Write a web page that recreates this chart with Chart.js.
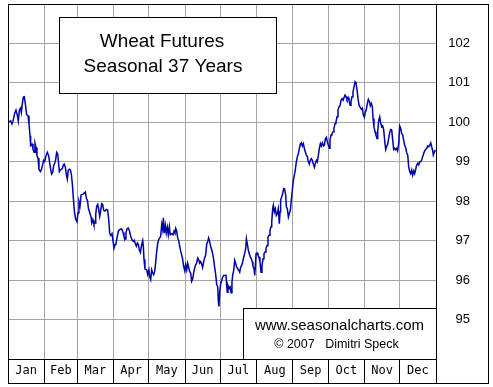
<!DOCTYPE html>
<html lang="en">
<head>
<meta charset="UTF-8">
<title>Wheat Futures Seasonal 37 Years</title>
<script src="https://cdn.jsdelivr.net/npm/chart.js"></script>
<style>
  html, body { margin: 0; padding: 0; background: #fff; }
</style>
</head>
<body>
<canvas id="chart" width="493" height="387"></canvas>
<script>
// month names and the day of year each month starts on
const months = ['Jan', 'Feb', 'Mar', 'Apr', 'May', 'Jun', 'Jul', 'Aug', 'Sep', 'Oct', 'Nov', 'Dec'];
const monthStarts = [0, 31, 59, 90, 120, 151, 181, 212, 243, 273, 304, 334, 365];
const yTicks = [95, 96, 97, 98, 99, 100, 101, 102];

const titleLines = ['Wheat Futures', 'Seasonal 37 Years'];
const creditLines = ['www.seasonalcharts.com', '\u00A9 2007   Dimitri Speck'];

// [day of year, seasonal index], one array per quarter
const q1 = [[0,100.0],[2.3,100.04],[3.4,99.96],[4.3,100.03],[5.7,100.23],[6.8,100.31],[8.0,100.17],[8.8,100.03],[9.7,100.31],[10.8,100.36],[11.4,100.25],[12.2,100.47],[13.1,100.64],[13.9,100.65],[14.8,100.47],[15.9,100.19],[17.1,100.17],[17.9,99.96],[18.8,99.66],[19.3,99.41],[20.5,99.45],[21.3,99.32],[22.2,99.24],[23.0,99.47],[23.9,99.36],[24.7,99.15],[25.6,99.09],[26.4,98.81],[27.6,98.75],[28.4,98.79],[29.6,98.94],[30.4,99.04],[31.3,99.01],[32.4,99.15],[33.5,99.24],[34.7,99.15],[35.5,98.98],[36.4,98.81],[37.2,98.69],[38.1,98.73],[38.9,98.9],[39.8,98.96],[40.6,99.04],[41.5,99.24],[42.4,99.2],[42.9,99.04],[43.8,98.75],[44.6,98.79],[45.5,98.81],[46.3,98.83],[47.2,98.92],[48.0,98.94],[48.9,98.86],[49.7,98.69],[50.6,98.56],[51.4,98.79],[52.3,98.81],[53.2,98.79],[54.0,98.69],[54.9,98.43],[55.7,98.09],[56.6,97.75],[57.7,97.54],[58.8,97.48],[59.7,97.71],[60.5,97.99],[61.4,97.88],[62.3,98.16],[64.0,98.18],
  [65.1,98.21],[66.0,98.23],[66.8,98.08],[67.9,98.0],[68.5,97.83],[69.6,97.72],[70.8,97.6],[71.4,97.45],[72.5,97.52],[73.3,97.41],[74.2,97.45],[74.8,97.66],[75.6,97.87],[76.5,97.92],[77.3,97.81],[78.2,97.62],[79.0,97.75],[79.9,97.94],[80.7,97.92],[81.6,97.77],[82.7,97.75],[83.9,97.79],[85.0,97.77],[85.9,97.53],[86.7,97.19],[87.6,97.13],[88.7,97.18],[89.6,96.98]];

const q2 = [[90.4,96.81],[91.3,96.9],[92.1,96.94],[93.0,97.07],[94.1,97.24],[95.2,97.28],[96.4,97.3],[97.2,97.28],[98.1,97.21],[98.9,97.11],[99.8,97.04],[100.6,97.19],[101.5,97.3],[102.6,97.32],[103.5,97.26],[104.3,97.15],[105.2,97.07],[106.0,97.01],[106.9,96.98],[107.7,97.01],[108.6,96.92],[109.5,96.86],[110.3,96.94],[111.2,96.9],[112.0,96.77],[112.9,96.7],[114.0,96.9],[114.9,97.0],[115.4,96.86],[116.0,96.52],[116.8,96.28],
  [118.3,96.26],[119.1,96.14],[120.2,96.26],[120.8,96.09],[121.7,96.01],[122.5,96.26],[123.4,96.18],[124.2,96.14],[125.1,96.22],[125.9,96.43],[126.8,96.73],[127.6,96.92],[128.5,97.03],[129.4,97.07],[130.2,97.11],[131.1,97.41],[131.9,97.28],[132.5,97.58],[133.3,97.19],[134.2,97.39],[135.0,97.19],[135.9,97.34],[136.7,97.15],[137.6,97.36],[138.4,97.15],[139.6,97.17],[140.7,97.15],[141.6,97.24],[142.4,97.19],[143.0,97.31],[143.8,97.25],[144.7,97.07],[145.6,97.0],[146.4,96.86],[147.3,96.73],[148.1,96.64],[149.0,96.52],[149.8,96.35],[150.7,96.24],[151.5,96.39],[152.4,96.26],[153.2,96.43],[154.1,96.32],[154.9,96.22],[155.8,96.18],[156.6,95.97],[157.5,96.03],[158.3,96.18],[159.2,96.31],[160.0,96.39],[160.9,96.43],[161.8,96.56],[162.6,96.52],[163.5,96.43],[164.3,96.47],[165.2,96.41],[166.0,96.32],[166.9,96.47],[167.7,96.56],[168.6,96.64],[169.4,96.9],[170.3,96.98],[171.1,97.07],[172.0,96.97],[172.8,96.86],[173.7,96.77],[174.6,96.66],[175.4,96.52],[176.3,96.31],[177.1,96.15],[178.0,95.88],[178.8,95.84],[179.4,95.46],[179.9,95.33]];

const q3 = [[180.5,95.69],[181.4,95.91],[182.2,95.99],[183.1,96.08],[183.9,96.12],[185.1,96.12],[185.9,96.14],[186.5,95.86],[187.0,95.69],[187.6,95.86],[188.5,95.78],[189.3,95.86],[190.2,95.68],[191.0,95.95],[191.6,96.12],[192.5,96.25],[193.3,96.5],[194.2,96.42],[195.0,96.33],[195.9,96.29],[196.7,96.25],[197.6,96.2],[198.4,96.33],[199.3,96.37],[200.1,96.46],[201.0,96.58],[201.8,96.67],[202.7,96.8],[203.3,97.05],[204.1,96.92],[205.0,96.75],[205.8,96.67],[206.7,96.58],[207.5,96.54],[208.4,96.46],[208.9,96.36],[209.8,96.29],[210.4,96.12],[210.9,96.33],[211.5,96.67],[212.4,96.69],[213.2,96.63],[214.1,96.58],[214.9,96.46],[215.8,96.2],[216.6,96.37],[217.5,96.54],[218.3,96.67],[219.2,96.71],[220.0,96.8],[220.9,96.88],[221.7,97.09],[222.6,97.14],[223.4,97.26],[224.3,97.35],[224.9,97.47],[225.7,97.81],[226.3,97.9],[227.1,97.73],[228.0,97.81],[228.8,97.64],[229.7,97.69],[230.5,97.81],[231.4,97.43],[232.0,97.73],[232.5,98.03],[233.4,98.11],[234.2,98.19],[235.1,98.32],[235.9,98.31],[236.8,98.15],[237.4,97.86],[238.2,97.81],[239.1,97.6],[239.9,97.69],[240.8,97.77],[241.6,98.03],[242.5,98.28],[243.3,98.53],[244.2,98.66],[245.0,98.79],[245.9,99.0],[246.8,99.13],[247.6,99.21],[248.5,99.34],
  [249.3,99.45],[250.2,99.48],[251.0,99.4],[251.9,99.46],[252.7,99.34],[253.6,99.25],[254.4,99.17],[255.3,99.13],[256.1,99.0],[257.0,98.94],[257.8,99.04],[258.7,99.08],[259.6,99.03],[260.4,98.94],[261.3,98.86],[262.1,98.96],[263.0,99.04],[263.8,99.0],[264.7,99.17],[265.5,99.34],[266.4,99.46],[267.2,99.4],[268.1,99.48],[269.0,99.4],[269.8,99.42],[270.6,99.57],[271.5,99.62],[272.3,99.51]];

const q4 = [[273.2,99.42],[274.1,99.34],[274.6,99.55],[275.5,99.68],[276.3,99.72],[277.2,99.76],[278.0,99.84],[278.9,99.97],[279.7,100.01],[280.6,100.14],[281.4,100.31],[282.3,100.39],[283.2,100.43],[284.0,100.56],[284.9,100.6],[285.7,100.56],[286.6,100.63],[287.4,100.69],[288.3,100.65],[289.1,100.58],[290.0,100.63],[290.8,100.56],[291.7,100.43],[292.5,100.52],[293.4,100.65],[294.2,100.77],[295.1,100.9],[296.0,101.03],[296.8,101.0],[297.7,100.81],[298.5,100.6],[299.4,100.43],[300.2,100.39],
  [301.3,100.33],[302.2,100.36],[303.0,100.19],[303.9,100.13],[304.7,100.25],[305.6,100.33],[306.5,100.48],[307.3,100.58],[308.2,100.53],[309.0,100.42],[309.9,100.48],[310.7,100.4],[311.3,100.1],[312.1,99.89],[313.0,99.76],[313.8,99.68],[314.7,99.59],[315.3,99.76],[316.1,100.04],[317.0,100.14],[317.8,99.99],[318.7,99.89],[319.5,99.91],[320.4,99.81],[321.2,99.55],[322.1,99.31],[322.9,99.38],[323.8,99.45],[324.6,99.59],[325.5,99.74],[326.4,99.82],[327.2,99.81],[328.1,99.55],[328.9,99.31],[329.8,99.34],[330.6,99.3],[331.5,99.34],[332.3,99.28],[333.2,99.47],[334.0,99.91],[334.9,99.85],[335.7,99.72],[336.6,99.68],[337.4,99.55],[338.3,99.42],[339.1,99.36],[340.0,99.23],[340.9,99.17],[341.7,98.87],[342.6,98.75],[343.4,98.7],[344.3,98.79],[345.1,98.66],[346.0,98.77],[346.8,98.7],[347.7,98.81],[348.5,98.92],[349.4,98.96],[350.2,98.92],[351.1,99.0],[351.9,99.0],[352.8,99.04],[353.6,99.13],[354.5,99.21],[355.4,99.28],[356.2,99.31],[357.1,99.34],[357.9,99.4],[358.8,99.38],[359.6,99.42],[360.5,99.48],[361.3,99.38],[362.2,99.28],[362.7,99.17],[363.6,99.25],[364.5,99.3]];

const points = [...q1, ...q2, ...q3, ...q4].map(([x, y]) => ({ x, y }));

// month labels sit halfway between month starts
const midMonths = months.map((m, i) => (monthStarts[i] + monthStarts[i + 1]) / 2);
const xTickValues = [...monthStarts, ...midMonths].sort((a, b) => a - b);
const isStart = v => monthStarts.includes(v);

const GRID = '#a4a4a4';

// boxes, texts and black frame lines
const decor = {
  id: 'decor',
  beforeDatasetsDraw(chart) {
    const ctx = chart.ctx;
    ctx.save();
    ctx.fillStyle = '#fff';
    ctx.strokeStyle = '#000';
    ctx.lineWidth = 1;

    // title box
    ctx.fillRect(59, 17, 217, 76);
    ctx.strokeRect(59.5, 17.5, 217, 76);
    ctx.fillStyle = '#000';
    ctx.font = '19px "Liberation Sans", Arial, sans-serif';
    ctx.textAlign = 'center';
    ctx.textBaseline = 'alphabetic';
    ctx.fillText(titleLines[0], 162, 47);
    ctx.fillText(titleLines[1], 163, 72);

    // credit box
    ctx.fillStyle = '#fff';
    ctx.fillRect(243, 308, 193, 51);
    ctx.strokeRect(243.5, 308.5, 193, 51);
    ctx.fillStyle = '#000';
    ctx.font = '15px "Liberation Sans", Arial, sans-serif';
    ctx.fillText(creditLines[0], 339.5, 329.5);
    ctx.font = '12.5px "Liberation Sans", Arial, sans-serif';
    ctx.fillText(creditLines[1], 336.5, 347.5);
    ctx.restore();
  },
  afterDraw(chart) {
    const ctx = chart.ctx;
    const a = chart.chartArea;
    ctx.save();
    ctx.strokeStyle = '#000';
    ctx.lineWidth = 1;
    ctx.beginPath();
    ctx.moveTo(a.right + 0.5, a.top);
    ctx.lineTo(a.right + 0.5, chart.height - 4);
    ctx.moveTo(a.left, a.bottom + 0.5);
    ctx.lineTo(a.right, a.bottom + 0.5);
    ctx.stroke();
    ctx.strokeRect(8.5, 4.5, 480, 379);
    ctx.restore();
  }
};

const ctx = document.getElementById('chart').getContext('2d');

new Chart(ctx, {
  type: 'line',
  data: {
    datasets: [{
      label: 'Wheat',
      data: points,
      borderColor: '#0000a8',
      borderWidth: 1.5,
      pointRadius: 0,
      tension: 0,
      fill: false
    }]
  },
  options: {
    responsive: false,
    animation: false,
    layout: { padding: { left: 8, top: 4, right: 23, bottom: 4 } },
    plugins: {
      legend: { display: false },
      tooltip: { enabled: false }
    },
    scales: {
      x: {
        type: 'linear',
        min: 0,
        max: 365,
        afterBuildTicks: s => { s.ticks = xTickValues.map(v => ({ value: v })); },
        afterFit: s => { s.height = 24; s.paddingLeft = 0; s.paddingRight = 0; },
        border: { display: false },
        grid: {
          color: c => (c.tick && isStart(c.tick.value)) ? GRID : 'rgba(0,0,0,0)',
          tickColor: c => (c.tick && isStart(c.tick.value)) ? '#000' : 'rgba(0,0,0,0)',
          tickLength: 24,
          lineWidth: 1
        },
        ticks: {
          autoSkip: false,
          maxRotation: 0,
          minRotation: 0,
          padding: -19,
          color: '#000',
          font: { family: '"DejaVu Sans Mono", monospace', size: 12 },
          callback: v => {
            const i = midMonths.indexOf(v);
            return i >= 0 ? months[i] : '';
          }
        }
      },
      y: {
        position: 'right',
        min: 94,
        max: 103,
        afterBuildTicks: s => { s.ticks = yTicks.map(v => ({ value: v })); },
        afterFit: s => { s.width = 34; s.paddingTop = 0; s.paddingBottom = 0; },
        border: { display: false },
        grid: { color: GRID, drawTicks: false, lineWidth: 1 },
        ticks: {
          padding: 12,
          crossAlign: 'far',
          color: '#000',
          font: { family: '"Liberation Sans", Arial, sans-serif', size: 13 }
        }
      }
    }
  },
  plugins: [decor]
});
</script>
</body>
</html>
